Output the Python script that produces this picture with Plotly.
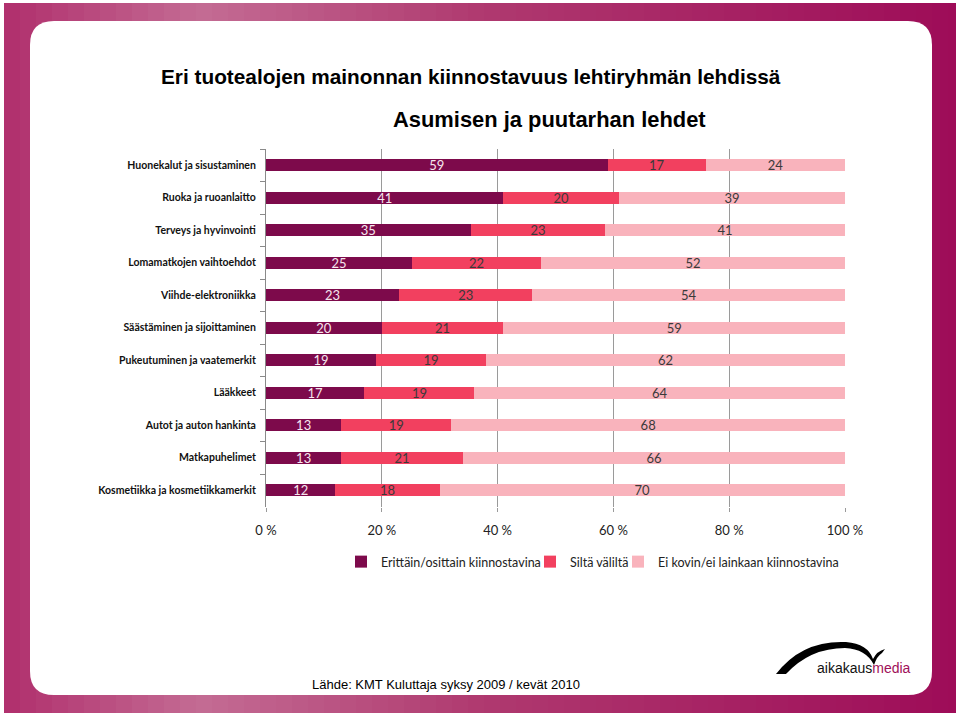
import plotly.graph_objects as go

# ---------------- data ----------------
categories = [
    "Huonekalut ja sisustaminen",
    "Ruoka ja ruoanlaitto",
    "Terveys ja hyvinvointi",
    "Lomamatkojen vaihtoehdot",
    "Viihde-elektroniikka",
    "Säästäminen ja sijoittaminen",
    "Pukeutuminen ja vaatemerkit",
    "Lääkkeet",
    "Autot ja auton hankinta",
    "Matkapuhelimet",
    "Kosmetiikka ja kosmetiikkamerkit",
]
kiinnostava = [59, 41, 35, 25, 23, 20, 19, 17, 13, 13, 12]
silta_valilta = [17, 20, 23, 22, 23, 21, 19, 19, 19, 21, 18]
ei_kiinnostava = [24, 39, 41, 52, 54, 59, 62, 64, 68, 66, 70]
series_names = [
    "Erittäin/osittain kiinnostavina",
    "Siltä väliltä",
    "Ei kovin/ei lainkaan kiinnostavina",
]
tick_vals = [0, 20, 40, 60, 80, 100]
tick_text = ["0 %", "20 %", "40 %", "60 %", "80 %", "100 %"]

title_text = "Eri tuotealojen mainonnan kiinnostavuus lehtiryhmän lehdissä"
subtitle_text = "Asumisen ja puutarhan lehdet"
source_text = "Lähde: KMT Kuluttaja syksy 2009 / kevät 2010"

# ---------------- styling ----------------
W, H = 960, 716
colors = ["#7D0A4B", "#F2405F", "#F9B3BC"]
label_colors = ["#F6E6EE", "#3A3A3A", "#3A3A3A"]
CAL = "Lato, 'Open Sans', sans-serif"
NARROW = "'Liberation Sans Narrow', 'Arial Narrow', 'Liberation Sans', sans-serif"
legend_x = [341, 530, 618]   # left edge of each legend box (px)


def px(x):
    return x / W


def py(y):
    return 1 - y / H


fig = go.Figure()
legend_ids = ["legend", "legend2", "legend3"]
for name, vals, col, lcol, lid in zip(series_names,
                                      [kiinnostava, silta_valilta, ei_kiinnostava],
                                      colors, label_colors, legend_ids):
    fig.add_trace(go.Bar(
        name=name, y=categories, x=vals, orientation="h",
        marker=dict(color=col, line=dict(width=0)),
        text=[str(v) for v in vals], textposition="inside",
        insidetextanchor="middle", textangle=0, constraintext="none",
        textfont=dict(family=CAL, size=13, color=lcol),
        hoverinfo="skip", legend=lid,
    ))

# ---------------- background frame ----------------
shapes = []
stops = [(0, (176, 46, 108)), (200, (196, 108, 148)), (480, (176, 58, 112)), (960, (158, 12, 88))]


def col_at(x):
    for (x0, c0), (x1, c1) in zip(stops[:-1], stops[1:]):
        if x0 <= x <= x1:
            t = (x - x0) / (x1 - x0)
            return "rgb(%d,%d,%d)" % tuple(int(a + (b - a) * t) for a, b in zip(c0, c1))
    return "rgb(%d,%d,%d)" % stops[-1][1]


step = 16
for x0 in range(4, 956, step):
    x1 = min(x0 + step + 1, 956)
    shapes.append(dict(type="rect", xref="paper", yref="paper", layer="below",
                       x0=px(x0), x1=px(x1), y0=py(713), y1=py(3),
                       fillcolor=col_at(x0 + step / 2), line=dict(width=0)))

# white rounded panel
L_, R_, T_, B_, r = 30, 932, 21, 695, 24
p = (f"M {px(L_ + r)},{py(T_)} L {px(R_ - r)},{py(T_)} "
     f"Q {px(R_)},{py(T_)} {px(R_)},{py(T_ + r)} "
     f"L {px(R_)},{py(B_ - r)} Q {px(R_)},{py(B_)} {px(R_ - r)},{py(B_)} "
     f"L {px(L_ + r)},{py(B_)} Q {px(L_)},{py(B_)} {px(L_)},{py(B_ - r)} "
     f"L {px(L_)},{py(T_ + r)} Q {px(L_)},{py(T_)} {px(L_ + r)},{py(T_)} Z")
shapes.append(dict(type="path", path=p, xref="paper", yref="paper", layer="below",
                   fillcolor="white", line=dict(width=0)))

# logo swoosh
sw = [(776, 674), "Q", (802, 640), (846, 642), "Q", (868, 644), (873, 659),
      "Q", (877, 651), (885, 649), "L", (882, 653), "Q", (877, 656), (874, 665),
      "Q", (866, 649), (845, 648), "Q", (810, 648), (786, 674)]
parts = ["M"]
for item in sw:
    if isinstance(item, str):
        parts.append(item)
    else:
        parts.append(f"{px(item[0])},{py(item[1])}")
parts.append("Z")
shapes.append(dict(type="path", path=" ".join(parts), xref="paper", yref="paper",
                   fillcolor="black", line=dict(width=0)))

annotations = [
    dict(text=title_text, x=px(471), y=py(76), xref="paper", yref="paper",
         showarrow=False, xanchor="center", yanchor="middle",
         font=dict(family=NARROW, size=20.8, color="black", weight="bold")),
    dict(text=subtitle_text, x=px(549), y=py(120), xref="paper", yref="paper",
         showarrow=False, xanchor="center", yanchor="middle",
         font=dict(family=NARROW, size=21.9, color="black", weight="bold")),
    dict(text=source_text, x=px(310), y=py(684), xref="paper", yref="paper",
         showarrow=False, xanchor="left", yanchor="middle",
         font=dict(family="'Liberation Sans', Arial, sans-serif", size=13, color="black")),
    dict(text="<span style='color:#111'>aikakaus</span><span style='color:#A0105A'>media</span>",
         x=px(815), y=py(668), xref="paper", yref="paper",
         showarrow=False, xanchor="left", yanchor="middle",
         font=dict(family="'Liberation Sans', Arial, sans-serif", size=14)),
]

legend_common = dict(orientation="h", xanchor="left", yanchor="middle", y=py(562),
                     font=dict(family=CAL, size=12.5, color="#222"),
                     bgcolor="rgba(0,0,0,0)", borderwidth=0, itemwidth=30)

fig.update_layout(
    width=W, height=H,
    margin=dict(l=0, r=0, t=0, b=0, autoexpand=False),
    paper_bgcolor="white", plot_bgcolor="rgba(0,0,0,0)",
    barmode="stack", barnorm="percent", bargap=0.62,
    shapes=shapes, annotations=annotations,
    showlegend=True,
    legend=dict(x=px(legend_x[0]), **legend_common),
    legend2=dict(x=px(legend_x[1]), **legend_common),
    legend3=dict(x=px(legend_x[2]), **legend_common),
    xaxis=dict(domain=[px(266), px(845)], range=[0, 100], automargin=False,
               tickvals=tick_vals, ticktext=tick_text,
               showgrid=True, gridcolor="#9A9A9A", gridwidth=1,
               showline=False, zeroline=False,
               ticks="outside", ticklen=4, tickcolor="#9A9A9A",
               ticklabelstandoff=8,
               tickfont=dict(family=CAL, size=13, color="#222")),
    yaxis=dict(domain=[py(506.5), py(149)], autorange="reversed", automargin=False,
               categoryorder="array", categoryarray=categories,
               showline=True, linecolor="#8A8A8A", linewidth=1,
               ticks="outside", ticklen=5, tickcolor="#8A8A8A", tickson="boundaries",
               ticklabelstandoff=7, showgrid=False,
               tickfont=dict(family=CAL, size=10.5, color="#111", weight="bold")),
)

fig.write_html("out.html", config={"responsive": False, "displayModeBar": False},
               post_script="document.body.style.margin='0';")
